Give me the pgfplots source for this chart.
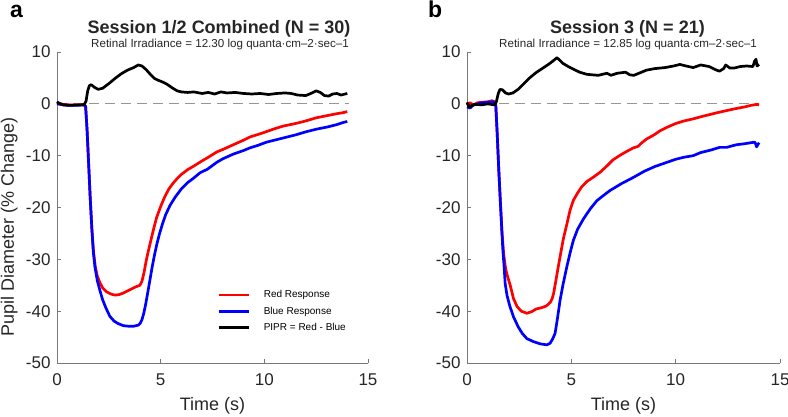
\documentclass[border=0pt]{standalone}
\usepackage{pgfplots}
\pgfplotsset{compat=1.18}
\usepackage{fontspec}
\setmainfont{Liberation Sans}
\definecolor{axgray}{RGB}{120,120,120}
\definecolor{dashgray}{RGB}{150,150,150}
\definecolor{txt}{RGB}{38,38,38}
\pgfplotsset{
  pupil/.style={
    scale only axis, width=311pt, height=311pt,
    anchor=south west,
    xmin=0, xmax=15, ymin=-50, ymax=10,
    axis x line=bottom, axis y line=left,
    axis line style={-, axgray, line width=0.6pt},
    tick style={axgray, line width=0.6pt},
    tick align=inside, major tick length=4pt,
    xtick={0,5,10,15},
    ytick={-50,-40,-30,-20,-10,0,10},
    yticklabels={-50,-40,-30,-20,-10,0,10},
    xticklabels={0,5,10,15},
    ticklabel style={font=\fontsize{17}{20}\selectfont, text=txt},
    xticklabel style={yshift=-7pt},
    yticklabel style={xshift=-3pt},
    label style={font=\fontsize{18}{21}\selectfont, text=txt},
    xlabel style={at={(axis description cs:0.5,0)}, anchor=base, yshift=-47pt},
    clip=false,
  },
  every axis plot/.append style={line width=2.7pt, line join=round},
}
\begin{document}
\begin{tikzpicture}[x=1pt,y=1pt]
\useasboundingbox (0,0) rectangle (788,416);
\begin{axis}[pupil, at={(57pt,53pt)},
  xlabel={Time (s)},
  ylabel={Pupil Diameter (\% Change)},
  ylabel style={at={(axis description cs:-0.1383,0.437)}, anchor=base},
  legend style={at={(axis cs:7.76,-35.6)}, anchor=north west, draw=none, fill=none,
    font=\fontsize{10}{12}\selectfont, row sep=3.5pt, inner sep=0pt,
    /tikz/every odd column/.append style={column sep=11pt}},
  legend cell align=left,
  legend image code/.code={\draw[#1, line width=2.7pt] (0pt,0pt) -- (30pt,0pt);},
]
\addplot[dashgray, line width=1pt, dash pattern=on 10pt off 6pt, forget plot] coordinates {(0,0)(14.1,0)};
\addplot[red] coordinates {(0,0.2)(0.3,-0.1)(0.6,-0.2)(1.0,-0.2)(1.3,-0.1)(1.38,-0.5)(1.45,-5)(1.52,-11)(1.6,-18)(1.68,-24)(1.76,-28.5)(1.85,-31.5)(1.95,-33.3)(2.07,-34.5)(2.2,-35.5)(2.4,-36.3)(2.6,-36.7)(2.8,-36.9)(3.0,-36.8)(3.2,-36.5)(3.4,-36.1)(3.6,-35.7)(3.8,-35.3)(4.0,-35.0)(4.1,-34.2)(4.2,-32.5)(4.3,-30.3)(4.4,-28.5)(4.5,-26.8)(4.65,-24.3)(4.8,-22)(5.0,-19.8)(5.2,-17.9)(5.4,-16.4)(5.6,-15.3)(5.8,-14.4)(6.0,-13.6)(6.3,-12.7)(6.6,-12.0)(7.0,-11.0)(7.3,-10.3)(7.7,-9.3)(8.0,-8.8)(8.5,-7.9)(9.0,-7.0)(9.3,-6.4)(9.7,-5.9)(10.0,-5.5)(10.5,-4.8)(10.9,-4.3)(11.5,-3.8)(12.0,-3.3)(12.5,-2.7)(13.0,-2.3)(13.5,-1.9)(13.8,-1.7)(14.0,-1.5)};
\addlegendentry{Red Response}
\addplot[blue] coordinates {(0,0)(0.3,-0.2)(0.6,-0.3)(1.0,-0.3)(1.3,-0.2)(1.38,-0.5)(1.45,-5)(1.52,-11)(1.6,-18)(1.68,-24)(1.75,-28.5)(1.83,-31.5)(1.95,-34.2)(2.07,-36)(2.2,-37.8)(2.35,-39.3)(2.55,-41)(2.75,-41.9)(2.95,-42.4)(3.2,-42.8)(3.44,-42.9)(3.7,-42.9)(3.92,-42.7)(4.02,-42.3)(4.1,-41.6)(4.18,-40.5)(4.27,-38.8)(4.36,-36.8)(4.46,-34.5)(4.58,-31.7)(4.7,-29.2)(4.82,-27)(4.95,-25)(5.1,-23)(5.25,-21.3)(5.45,-19.6)(5.7,-18)(6.0,-16.4)(6.3,-15.2)(6.6,-14.3)(6.9,-13.3)(7.26,-12.6)(7.7,-11.3)(8.0,-10.6)(8.5,-9.7)(9.0,-9.0)(9.3,-8.5)(9.7,-8.0)(10.1,-7.4)(10.5,-7.0)(10.9,-6.6)(11.5,-6.0)(12.0,-5.4)(12.5,-4.9)(13.0,-4.5)(13.5,-4.0)(13.8,-3.6)(14.0,-3.4)};
\addlegendentry{Blue Response}
\addplot[black] coordinates {(0,0.4)(0.1,0.1)(0.3,-0.2)(0.6,-0.3)(1.0,-0.2)(1.3,-0.2)(1.4,0.5)(1.48,2.5)(1.56,3.5)(1.65,3.7)(1.8,3.2)(1.99,2.8)(2.2,3.0)(2.5,3.9)(2.8,4.9)(3.1,5.8)(3.4,6.5)(3.7,7.0)(3.92,7.5)(4.1,7.3)(4.3,6.6)(4.5,5.7)(4.7,4.9)(4.85,4.6)(5.1,4.2)(5.3,3.8)(5.55,3.1)(5.8,2.5)(6.0,2.3)(6.3,2.2)(6.6,2.3)(7.0,2.0)(7.3,2.2)(7.6,1.9)(7.9,2.3)(8.2,2.1)(8.6,2.2)(9.0,2.0)(9.4,1.9)(9.8,2.0)(10.2,1.8)(10.6,2.0)(11.0,2.1)(11.3,2.0)(11.6,1.7)(12.0,1.6)(12.3,2.1)(12.5,2.5)(12.7,2.2)(12.9,1.6)(13.1,1.5)(13.3,1.9)(13.5,2.0)(13.7,1.7)(14.0,2.0)};
\addlegendentry{PIPR = Red - Blue}
\end{axis}
\begin{axis}[pupil, at={(467pt,53pt)}, width=313pt, xlabel={Time (s)}]
\addplot[dashgray, line width=1pt, dash pattern=on 10pt off 6pt] coordinates {(0,0)(14.0,0)};
\addplot[red] coordinates {(0,-0.3)(0.15,0.2)(0.3,-0.2)(0.5,0.2)(0.7,0.3)(1.0,0.4)(1.2,0.6)(1.32,0.4)(1.38,-0.3)(1.45,-6)(1.52,-12.5)(1.6,-19)(1.68,-25)(1.76,-29)(1.85,-31.8)(1.95,-33.4)(2.07,-35)(2.23,-37.6)(2.4,-39.1)(2.6,-40)(2.87,-40.4)(3.1,-40.1)(3.3,-39.6)(3.6,-39.3)(3.8,-39.0)(3.99,-38.3)(4.08,-37.6)(4.15,-36.6)(4.25,-34.3)(4.38,-31.3)(4.5,-28.6)(4.62,-26)(4.78,-23.3)(4.94,-20.5)(5.1,-18.6)(5.3,-17.2)(5.5,-16)(5.74,-15)(6.0,-14.3)(6.38,-13.2)(6.7,-12)(7.0,-10.8)(7.3,-10.0)(7.6,-9.3)(7.97,-8.5)(8.2,-8.2)(8.35,-7.6)(8.6,-6.8)(9.0,-5.9)(9.25,-5.2)(9.6,-4.5)(10.0,-3.8)(10.4,-3.3)(10.84,-2.9)(11.2,-2.5)(11.6,-2.1)(12.0,-1.7)(12.44,-1.3)(12.9,-0.9)(13.3,-0.6)(13.6,-0.3)(13.9,-0.1)(14.0,-0.2)};
\addplot[blue] coordinates {(0,-0.6)(0.15,-0.8)(0.3,-0.2)(0.5,0)(0.7,0.2)(1.0,0.3)(1.2,0.4)(1.32,0.3)(1.38,-0.3)(1.45,-6)(1.52,-12.5)(1.6,-19)(1.67,-24.5)(1.72,-28.3)(1.78,-31.5)(1.83,-34.7)(1.92,-37)(2.05,-39)(2.23,-41.1)(2.45,-43)(2.65,-44.3)(2.87,-45.3)(3.2,-45.9)(3.5,-46.3)(3.83,-46.5)(3.98,-46.2)(4.1,-45.4)(4.22,-44.3)(4.32,-41.8)(4.4,-39.6)(4.46,-37.9)(4.6,-34.9)(4.78,-31.5)(4.95,-28.6)(5.1,-26.3)(5.3,-24.2)(5.58,-22.2)(5.9,-20.3)(6.22,-18.7)(6.5,-17.8)(6.86,-16.7)(7.4,-15.4)(7.97,-14.2)(8.5,-13)(9.0,-12.1)(9.57,-11.3)(10.0,-10.7)(10.4,-10.3)(10.84,-10.0)(11.2,-9.4)(11.7,-8.9)(12.1,-8.4)(12.44,-8.4)(12.9,-7.9)(13.3,-7.7)(13.6,-7.5)(13.8,-7.4)(13.88,-8.3)(13.95,-7.8)(14.0,-7.5)};
\addplot[black] coordinates {(0,0.3)(0.1,-0.6)(0.2,-0.4)(0.4,-0.1)(0.7,-0.2)(1.0,0)(1.3,-0.2)(1.4,0.3)(1.5,2.0)(1.58,2.8)(1.7,2.7)(1.85,2.1)(1.99,1.9)(2.2,2.1)(2.45,2.8)(2.7,3.8)(3.0,5.0)(3.3,6.0)(3.6,6.8)(3.9,7.6)(4.1,8.2)(4.31,8.9)(4.45,8.4)(4.6,7.8)(4.85,7.2)(5.1,6.7)(5.4,6.1)(5.74,5.7)(6.0,5.6)(6.3,5.5)(6.7,5.9)(6.9,5.5)(7.2,5.9)(7.6,6.1)(7.8,5.6)(8.0,5.5)(8.3,6.0)(8.6,6.5)(9.0,6.8)(9.5,7.0)(9.9,7.3)(10.2,7.6)(10.5,7.3)(10.84,7.0)(11.2,7.5)(11.6,7.2)(11.9,6.6)(12.1,6.3)(12.3,6.8)(12.4,7.5)(12.6,6.9)(12.8,6.9)(13.1,7.2)(13.4,7.3)(13.7,7.2)(13.78,8.2)(13.85,8.6)(13.9,7.3)(14.0,7.6)};
\end{axis}
% titles and panel labels
\node[anchor=base west, inner sep=0pt, font=\fontsize{23}{26}\selectfont\bfseries] at (10,398) {a};
\node[anchor=base west, inner sep=0pt, font=\fontsize{23}{26}\selectfont\bfseries] at (428,398) {b};
\node[anchor=base, inner sep=0pt, text=txt, font=\fontsize{18}{21}\selectfont\bfseries] at (219,382) {Session 1/2 Combined (N = 30)};
\node[anchor=base, inner sep=0pt, text=txt, font=\fontsize{11.6}{14}\selectfont] at (220,368) {Retinal Irradiance = 12.30 log quanta·cm–2·sec–1};
\node[anchor=base, inner sep=0pt, text=txt, font=\fontsize{18}{21}\selectfont\bfseries] at (627.5,382) {Session 3 (N = 21)};
\node[anchor=base, inner sep=0pt, text=txt, font=\fontsize{11.6}{14}\selectfont] at (628,368) {Retinal Irradiance = 12.85 log quanta·cm–2·sec–1};
\end{tikzpicture}
\end{document}
